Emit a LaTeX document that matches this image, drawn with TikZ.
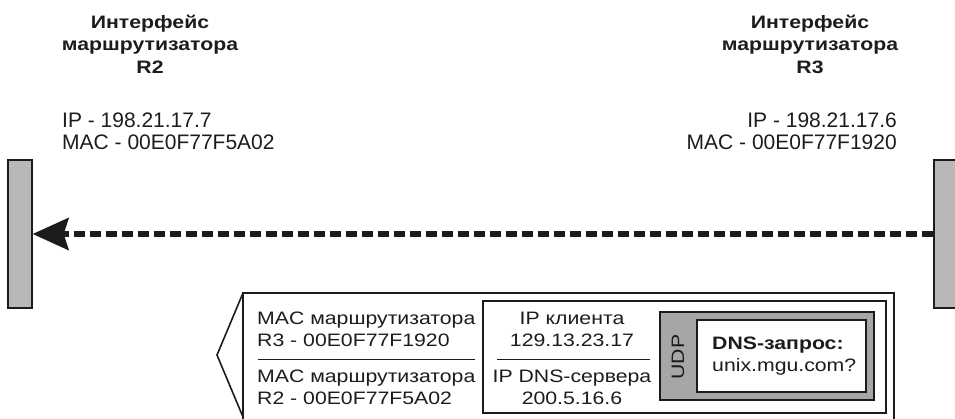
\documentclass[tikz,border=0pt]{standalone}
\usepackage{fontspec}
\setmainfont{Liberation Sans}
\newfontfamily\widefont{Liberation Sans}[FakeStretch=1.18]
\usepackage{tikz}
\usetikzlibrary{arrows.meta,positioning}
\definecolor{ink}{RGB}{28,28,28}
\definecolor{barfill}{RGB}{184,184,184}
\definecolor{udpfill}{RGB}{166,166,166}
\tikzset{
  ifbar/.style={draw=ink,fill=barfill,line width=1.2pt,minimum width=24,
                minimum height=148,inner sep=0},
  hdr/.style={font=\widefont\bfseries\fontsize{18}{22.5}\selectfont,
              align=center,inner sep=0,text=ink},
  addr/.style={font=\fontsize{21}{22}\selectfont,inner sep=0,text=ink},
  fld/.style={font=\widefont\fontsize{18}{22}\selectfont,inner sep=0,text=ink},
  frm/.style={draw=ink,line width=1.6pt},
  divline/.style={draw=ink,line width=1pt},
  flowd/.style={-{Stealth[length=36pt,width=32pt,inset=5pt]},draw=ink,
                line width=5.5pt,dash pattern=on 11pt off 5pt},
}

\begin{document}
\begin{tikzpicture}[x=1pt,y=1pt]

  \clip (0,0) rectangle (955,-418);

  % --- interfete ----------------------------------------------------------
  \node[hdr] (hr2) at (150,-44) {Интерфейс\\маршрутизатора\\R2};
  \node[hdr] (hr3) at (810,-44) {Интерфейс\\маршрутизатора\\R3};
  \node[addr,align=left,anchor=north west]  (ar2) at (62,-112.5)
        {IP - 198.21.17.7\\MAC - 00E0F77F5A02};
  \node[addr,align=right,anchor=north east] (ar3) at (897,-112.5)
        {IP - 198.21.17.6\\MAC - 00E0F77F1920};

  \node[ifbar] (r2bar) at (20,-234) {};
  \node[ifbar] (r3bar) at (946,-234) {};

  % --- cadrul -------------------------------------------------------------
  \draw[frm] (243,-440) -- (243,-293) -- (894,-293) -- (894,-440);
  \draw[frm] (243,-293) -- (217,-355) -- (243,-417);

  \node[frm,minimum width=403,minimum height=112,inner sep=0] (ipbox)  at (684.5,-357) {};
  \node[draw=ink,line width=1.3pt,fill=udpfill,minimum width=214,minimum height=88,
        inner sep=0] (udpbox) at (767,-356) {};
  \node[draw=ink,line width=1.3pt,fill=white,minimum width=169,minimum height=72,
        inner sep=0] (dnsbox) at (781.5,-356) {};

  % --- campuri ------------------------------------------------------------
  \node[fld,align=left,anchor=north west] (mac3) at (257,-312)
        {MAC маршрутизатора\\R3 - 00E0F77F1920};
  \node[fld,align=left,anchor=north west] (mac2) at (257,-370)
        {MAC маршрутизатора\\R2 - 00E0F77F5A02};
  \draw[divline] (258,-359) -- (475,-359);

  \node[fld,align=center,anchor=north] (ipcl)  at (572,-312) {IP клиента\\129.13.23.17};
  \node[fld,align=center,anchor=north] (ipdns) at (572,-370) {IP DNS-сервера\\200.5.16.6};
  \draw[divline] (497,-359) -- (650,-359);

  \node[fld,rotate=90] (udp) at (678,-357) {UDP};
  \node[fld,align=left,anchor=north west] (dnsq) at (712,-337)
        {\textbf{DNS-запрос:}\\unix.mgu.com?};

  % --- cadrul trimis ------------------------------------------------------
  \draw[flowd] (r3bar.west) -- (r2bar.east);
\end{tikzpicture}
\end{document}
